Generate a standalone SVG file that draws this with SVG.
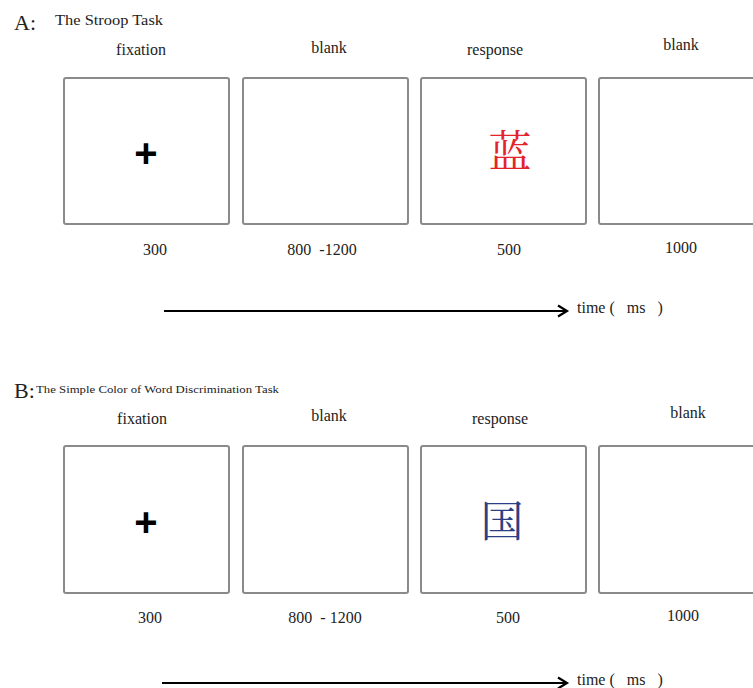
<svg xmlns="http://www.w3.org/2000/svg" width="753" height="688" viewBox="0 0 753 688">
<defs>
<style>
.box{fill:#fff;stroke:#8a8a8a;stroke-width:2}
.t{font-family:"Liberation Serif","Times New Roman",serif;fill:#222;font-size:16px;text-anchor:middle;white-space:pre}
.h{font-family:"Liberation Serif","Times New Roman",serif;fill:#222;white-space:pre}
.cjk{font-family:"Noto Serif CJK SC","Noto Sans CJK SC",serif;font-size:43px;text-anchor:middle}
.plus{font-family:"Liberation Sans",Arial,sans-serif;font-size:40px;font-weight:bold;text-anchor:middle;fill:#000}
.arr{stroke:#000;stroke-width:2;fill:none}
</style>
<marker id="ah" markerWidth="14" markerHeight="14" refX="11" refY="7" orient="auto" markerUnits="userSpaceOnUse">
<path d="M2,1.5 L11,7 L2,12.5" fill="none" stroke="#000" stroke-width="2.2"/>
</marker>
</defs>
<rect width="753" height="688" fill="#fff"/>
<g id="titleA">
<text class="h" x="14" y="30" font-size="22">A:</text>
<text class="h" x="55" y="25" font-size="14" textLength="108" lengthAdjust="spacingAndGlyphs">The Stroop Task</text>
</g>
<g id="A-fixation">
<text class="t" x="141" y="55">fixation</text>
<rect class="box" x="64" y="78" width="165" height="146" rx="2"/>
<text class="plus" x="146" y="167">+</text>
<text class="t" x="155" y="255">300</text>
</g>
<g id="A-blank1">
<text class="t" x="329" y="53">blank</text>
<rect class="box" x="243" y="78" width="165" height="146" rx="2"/>
<text class="t" x="322" y="255" xml:space="preserve">800  -1200</text>
</g>
<g id="A-response">
<text class="t" x="495" y="55">response</text>
<rect class="box" x="421" y="78" width="165" height="146" rx="2"/>
<text class="cjk" x="510" y="167" fill="#e3232b">蓝</text>
<text class="t" x="509" y="255">500</text>
</g>
<g id="A-blank2">
<text class="t" x="681" y="50">blank</text>
<rect class="box" x="599" y="78" width="170" height="146" rx="2"/>
<text class="t" x="681" y="253">1000</text>
</g>
<g id="connectors">
<line class="arr" x1="164" y1="311" x2="567" y2="311" marker-end="url(#ah)"/>
<line class="arr" x1="162" y1="683" x2="567" y2="683" marker-end="url(#ah)"/>
</g>
<g id="timeA">
<text class="h" x="577" y="313" font-size="16" xml:space="preserve">time (   ms   )</text>
</g>
<g id="titleB">
<text class="h" x="14" y="398" font-size="22">B:</text>
<text class="h" x="36" y="393" font-size="11" textLength="243" lengthAdjust="spacingAndGlyphs">The Simple Color of Word Discrimination Task</text>
</g>
<g id="B-fixation">
<text class="t" x="142" y="424">fixation</text>
<rect class="box" x="64" y="446" width="165" height="147" rx="2"/>
<text class="plus" x="146" y="536">+</text>
<text class="t" x="150" y="623">300</text>
</g>
<g id="B-blank1">
<text class="t" x="329" y="421">blank</text>
<rect class="box" x="243" y="446" width="165" height="147" rx="2"/>
<text class="t" x="325" y="623" xml:space="preserve">800  - 1200</text>
</g>
<g id="B-response">
<text class="t" x="500" y="424">response</text>
<rect class="box" x="421" y="446" width="165" height="147" rx="2"/>
<text class="cjk" x="502" y="537" fill="#2b3f86">国</text>
<text class="t" x="508" y="623">500</text>
</g>
<g id="B-blank2">
<text class="t" x="688" y="418">blank</text>
<rect class="box" x="599" y="446" width="170" height="147" rx="2"/>
<text class="t" x="683" y="621">1000</text>
</g>
<g id="timeB">
<text class="h" x="577" y="685" font-size="16" xml:space="preserve">time (   ms   )</text>
</g>
</svg>
